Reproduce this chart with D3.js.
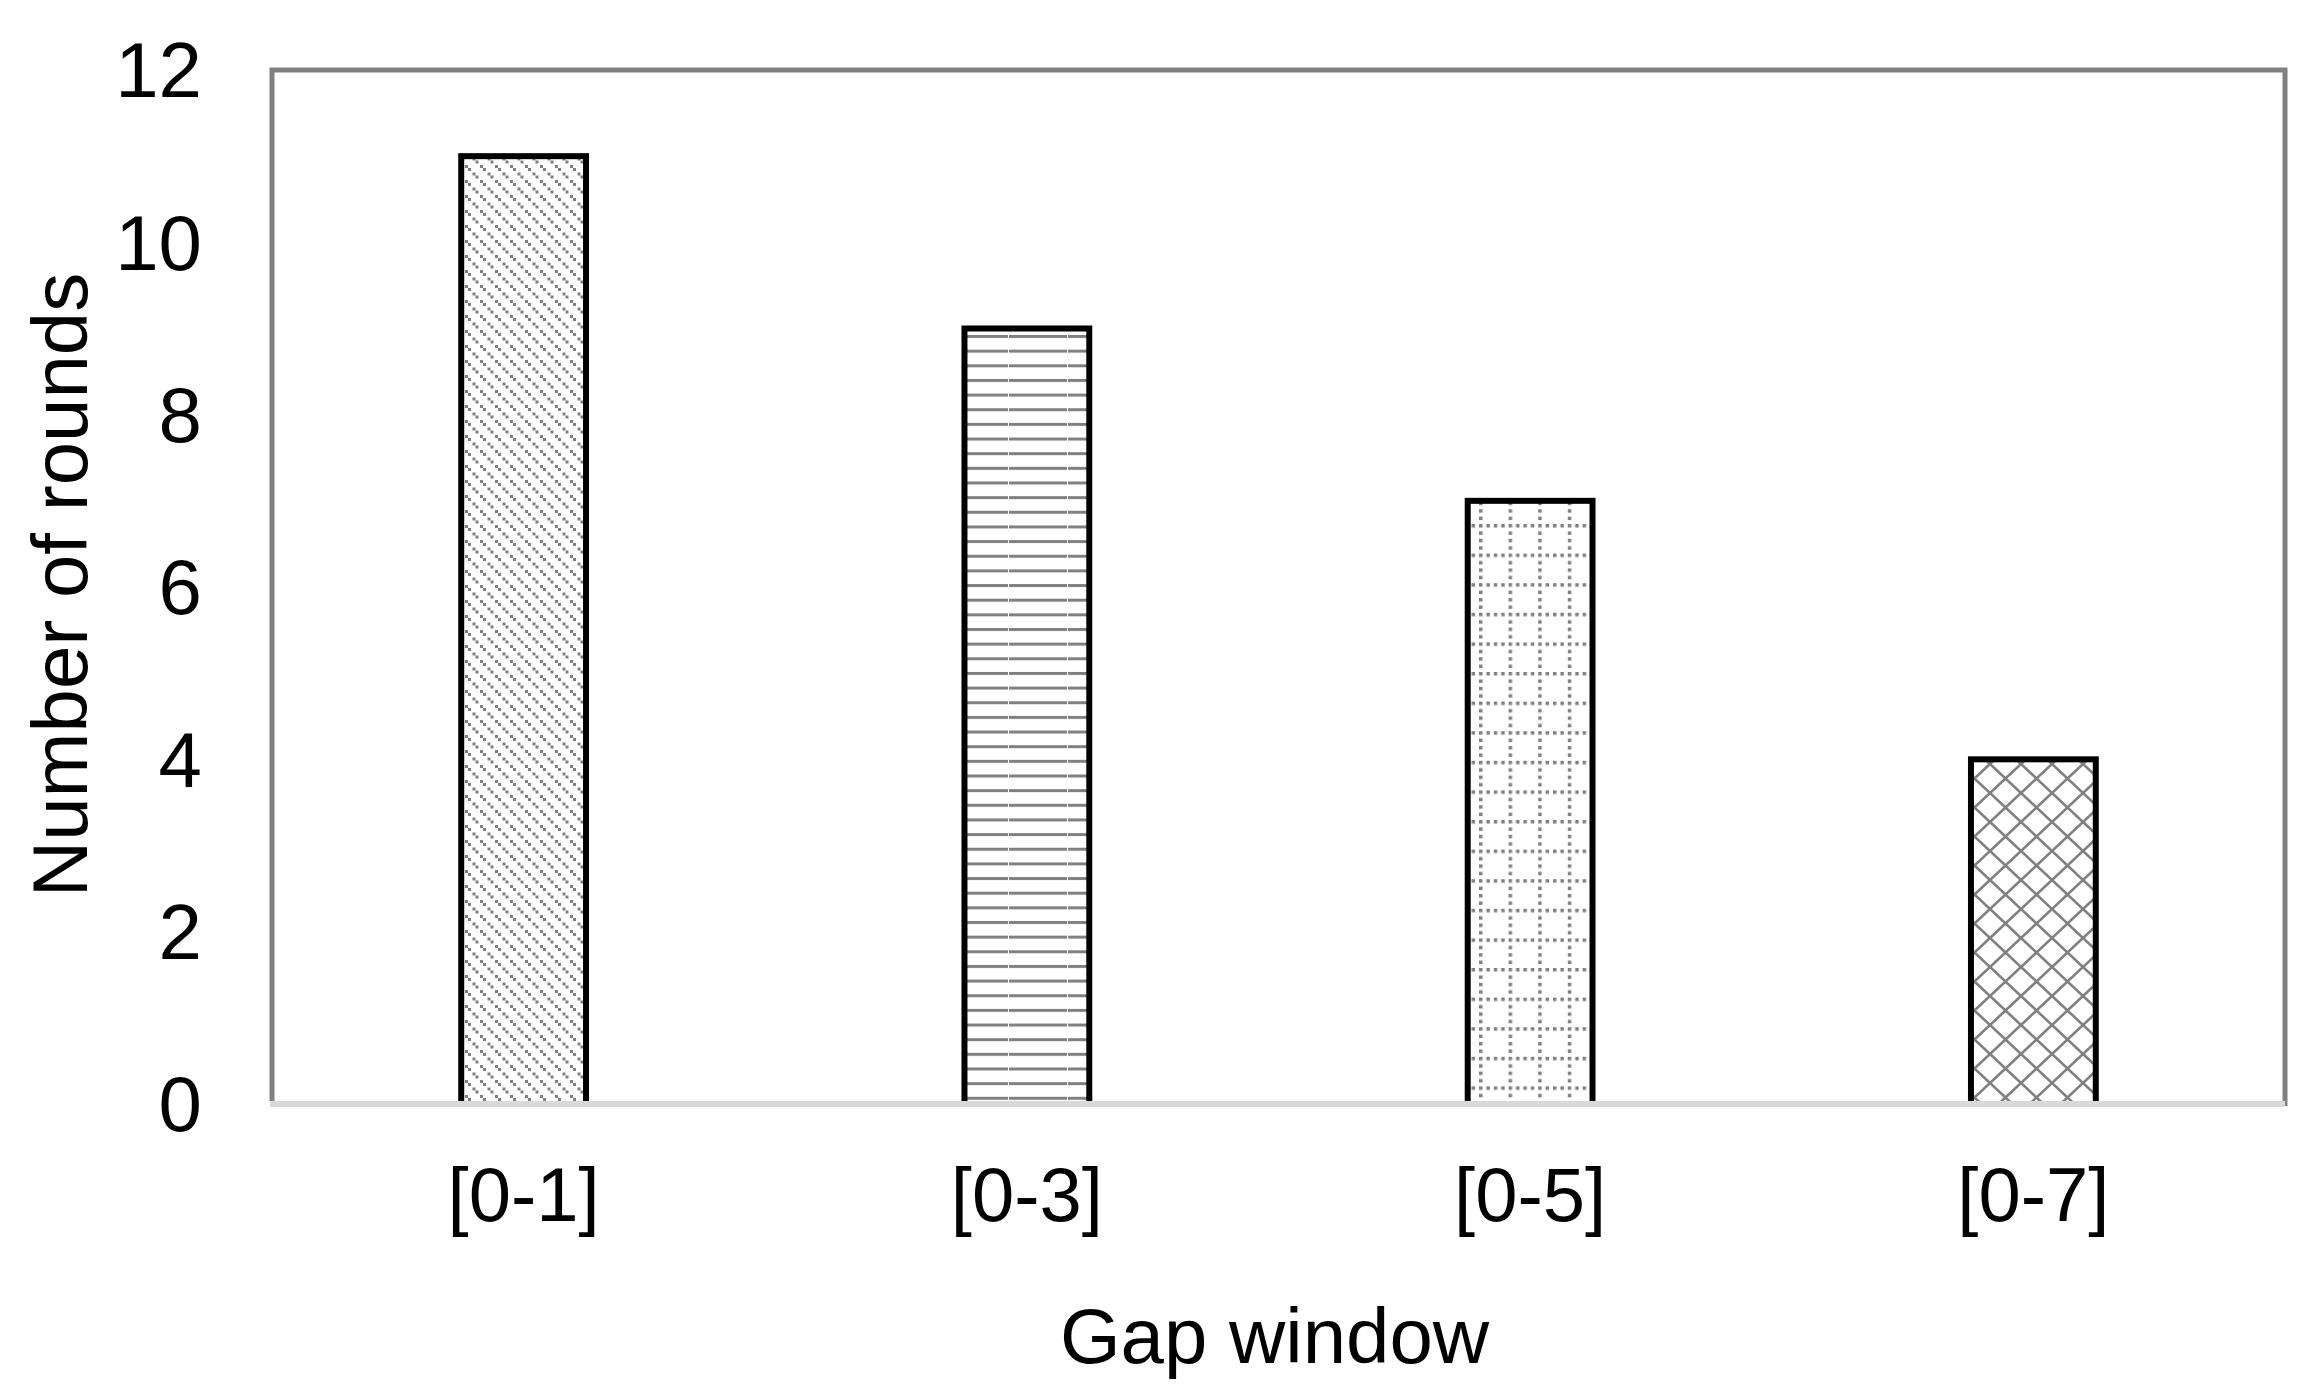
<!DOCTYPE html>
<meta charset="utf-8">
<head>
<title>Number of rounds by gap window</title>
</head>

<style>
body {
  margin: 0;
  background: #fff;
}
text {
  font-family: "Liberation Sans", Arial, sans-serif;
  fill: #000;
}
</style>

<body>
  <svg width="2310" height="1395"></svg>

  <script src="https://d3js.org/d3.v7.min.js"></script>
  <script>

  // data
  var categories = ['[0-1]', '[0-3]', '[0-5]', '[0-7]'];
  var rounds = [11, 9, 7, 4];
  var yTicks = [0, 2, 4, 6, 8, 10, 12];
  var patternIds = ['diag', 'hlines', 'dotgrid', 'cross'];

  var svg = d3.select('svg');
  // (window.top is read-only, so no plain "top" here)
  var plotLeft = 272, plotRight = 2285, plotTop = 70, plotBottom = 1104;

  var x = d3.scaleBand().domain(categories).range([plotLeft, plotRight]).padding(0);
  var y = d3.scaleLinear().domain([0, 12]).range([plotBottom, plotTop]);
  var barW = x.bandwidth() * 0.248;

  // fill patterns (gray on white, like the excel ones)
  var defs = svg.append('defs');
  var grey = '#808080';

  var p1 = defs.append('pattern').attr('id', 'diag')
    .attr('patternUnits', 'userSpaceOnUse')
    .attr('width', 15).attr('height', 15);
  p1.append('rect').attr('width', 15).attr('height', 15).attr('fill', '#fff');
  [[0, 0], [3, 3], [7.5, 7.5], [10.5, 10.5]].forEach(function(d) {
    p1.append('rect').attr('x', d[0]).attr('y', d[1])
      .attr('width', 3).attr('height', 3).attr('fill', grey);
  });

  var p2 = defs.append('pattern').attr('id', 'hlines')
    .attr('patternUnits', 'userSpaceOnUse')
    .attr('x', 1009).attr('y', 335)
    .attr('width', 59).attr('height', 14.65);
  p2.append('rect').attr('width', 59).attr('height', 14.65).attr('fill', '#fff');
  p2.append('rect').attr('width', 58).attr('height', 3).attr('fill', grey);

  var p3 = defs.append('pattern').attr('id', 'dotgrid')
    .attr('patternUnits', 'userSpaceOnUse')
    .attr('x', 1479).attr('y', 524)
    .attr('width', 29.6).attr('height', 29.6);
  p3.append('rect').attr('width', 29.6).attr('height', 29.6).attr('fill', '#fff');
  [0, 1, 2, 3].forEach(function(i) {
    p3.append('rect').attr('x', 0).attr('y', i * 7.4)
      .attr('width', 3.5).attr('height', 3.5).attr('fill', grey);
    if (i > 0) {
      p3.append('rect').attr('x', i * 7.4).attr('y', 0)
        .attr('width', 3.5).attr('height', 3.5).attr('fill', grey);
    }
  });

  var p4 = defs.append('pattern').attr('id', 'cross')
    .attr('patternUnits', 'userSpaceOnUse')
    .attr('x', 1990).attr('y', 764)
    .attr('width', 31).attr('height', 29);
  p4.append('rect').attr('width', 31).attr('height', 29).attr('fill', '#fff');
  p4.append('path')
    .attr('d', 'M-2,-1.9 L33,30.9 M33,-1.9 L-2,30.9')
    .attr('stroke', grey).attr('stroke-width', 2.6).attr('fill', 'none');

  // plot area frame: grey top/left/right
  svg.append('path')
    .attr('d', 'M' + plotLeft + ',' + (plotBottom - 3) + ' L' + plotLeft + ',' + plotTop +
      ' L' + plotRight + ',' + plotTop + ' L' + plotRight + ',' + (plotBottom + 2))
    .attr('fill', 'none')
    .attr('stroke', grey)
    .attr('stroke-width', 5);

  // bars
  svg.append('g')
    .selectAll('rect')
    .data(rounds)
    .enter()
    .append('rect')
    .attr('x', function(d, i) { return x(categories[i]) + x.bandwidth() / 2 - barW / 2; })
    .attr('y', function(d) { return y(d); })
    .attr('width', barW)
    .attr('height', function(d) { return y(0) - y(d); })
    .attr('fill', function(d, i) { return 'url(#' + patternIds[i] + ')'; })
    .attr('stroke', '#000')
    .attr('stroke-width', 6);

  // x axis line (light grey)
  svg.append('line')
    .attr('x1', plotLeft - 2).attr('x2', plotRight)
    .attr('y1', plotBottom).attr('y2', plotBottom)
    .attr('stroke', '#d9d9d9')
    .attr('stroke-width', 6);

  // y tick labels
  svg.append('g')
    .selectAll('text')
    .data(yTicks)
    .enter()
    .append('text')
    .attr('x', 202)
    .attr('y', function(d) { return y(d); })
    .attr('dy', '0.35em')
    .attr('text-anchor', 'end')
    .style('font-size', '78px')
    .text(function(d) { return d; });

  // x tick labels
  svg.append('g')
    .selectAll('text')
    .data(categories)
    .enter()
    .append('text')
    .attr('x', function(d) { return x(d) + x.bandwidth() / 2; })
    .attr('y', 1221)
    .attr('text-anchor', 'middle')
    .style('font-size', '76px')
    .text(function(d) { return d; });

  // axis titles
  svg.append('text')
    .attr('x', (plotLeft + plotRight) / 2 - 4)
    .attr('y', 1363)
    .attr('text-anchor', 'middle')
    .style('font-size', '78px')
    .text('Gap window');

  svg.append('text')
    .attr('transform', 'translate(87,' + ((plotTop + plotBottom) / 2 - 2) + ') rotate(-90)')
    .attr('text-anchor', 'middle')
    .style('font-size', '78px')
    .text('Number of rounds');

  </script>
</body>
</html>
